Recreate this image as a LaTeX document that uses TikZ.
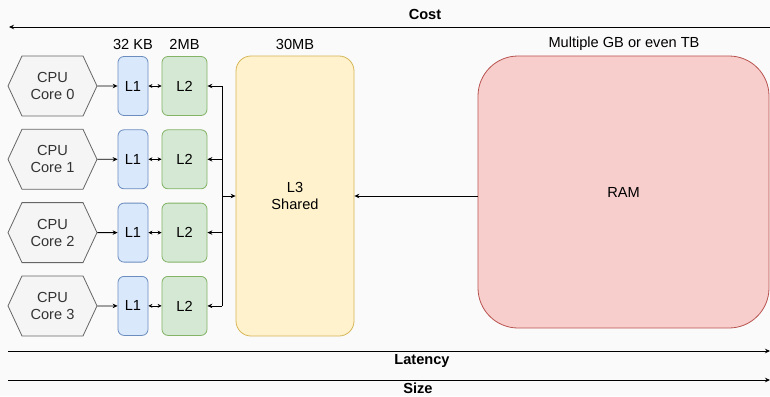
\documentclass[tikz,border=0pt]{standalone}
\usepackage{fontspec}
\setmainfont{Liberation Sans}
\usetikzlibrary{shapes.symbols,positioning,arrows.meta}
\definecolor{bgfill}{HTML}{FAFAFA}
\definecolor{corefill}{HTML}{F5F5F5}
\definecolor{coreline}{HTML}{666666}
\definecolor{lonefill}{HTML}{DAE8FC}
\definecolor{loneline}{HTML}{6C8EBF}
\definecolor{ltwofill}{HTML}{D5E8D4}
\definecolor{ltwoline}{HTML}{82B366}
\definecolor{lthreefill}{HTML}{FFF2CC}
\definecolor{lthreeline}{HTML}{D6B656}
\definecolor{ramfill}{HTML}{F8CECC}
\definecolor{ramline}{HTML}{B85450}

\begin{document}
\begin{tikzpicture}[x=1pt,y=-1pt,>={Stealth[length=5pt,width=4.5pt]},
                    font=\fontsize{14.6}{17}\selectfont,line width=0.8pt]
  \tikzstyle{core}=[signal,signal to=west and east,signal pointer angle=130,
    fill=corefill,draw=coreline,minimum width=89pt,minimum height=60pt,
    inner sep=0pt,align=center,text=black!80]
  \tikzstyle{lone}=[rectangle,rounded corners=6pt,fill=lonefill,draw=loneline,
    minimum width=30pt,minimum height=59pt,inner sep=0pt]
  \tikzstyle{ltwo}=[rectangle,rounded corners=6pt,fill=ltwofill,draw=ltwoline,
    minimum width=45pt,minimum height=59pt,inner sep=0pt]
  \tikzstyle{size}=[inner sep=0pt]
  \tikzstyle{axis}=[font=\fontsize{14.6}{17}\selectfont\bfseries,inner sep=0pt]

  \fill[bgfill] (0,0) rectangle (770,396);
  \useasboundingbox (0,0) rectangle (770,396);

  % cores with their private caches
  \foreach \i in {0,...,3}{
    \node[core] (core\i) at (52.5,86+73.3*\i) {CPU\\Core \i};
    \node[lone] (lone\i) at (133,86+73.3*\i) {L1};
    \node[ltwo] (ltwo\i) at (184.5,86+73.3*\i) {L2};
    \draw[->] (core\i) -- (lone\i);
    \draw[<->,>={Stealth[length=4pt,width=4pt]}] (lone\i) -- (ltwo\i);
  }

  \node[rectangle,rounded corners=15pt,fill=lthreefill,draw=lthreeline,
        minimum width=118pt,minimum height=280pt,align=center] (lthree)
        at (295,196) {L3\\Shared};
  \node[rectangle,rounded corners=40pt,fill=ramfill,draw=ramline,
        minimum width=291pt,minimum height=272pt] (ram) at (623.5,192) {RAM};

  % sizes
  \node[size] (szone) at (133,44) {32 KB};
  \node[size] (sztwo) at (184.5,44) {2MB};
  \node[size] (szthree) at (295,44) {30MB};
  \node[size] (szram) at (624,44) {Multiple GB or even TB};

  % shared bus between L2 and L3
  \coordinate (bus) at (222,196);
  \draw (ltwo0.east -| bus) -- (ltwo3.east -| bus);
  \foreach \i in {0,...,3}
    \draw[->] (ltwo\i.east -| bus) -- (ltwo\i.east);
  \draw[->] (bus) -- (lthree.west |- bus);
  \draw[->] (lthree.east -| ram.west) -- (lthree.east);

  % axes
  \coordinate (costR) at (770,27);
  \coordinate (costL) at (9,27);
  \draw[->] (costR) -- (costL);
  \node[axis] (cost) at (425,14) {Cost};
  \coordinate (latL) at (8,351);
  \coordinate (latR) at (770,351);
  \draw[->] (latL) -- (latR);
  \node[axis] (latency) at (422,361) {Latency};
  \coordinate (sizeL) at (8,380);
  \coordinate (sizeR) at (770,380);
  \draw[->] (sizeL) -- (sizeR);
  \node[axis] (size) at (418,388.5) {Size};
\end{tikzpicture}
\end{document}
